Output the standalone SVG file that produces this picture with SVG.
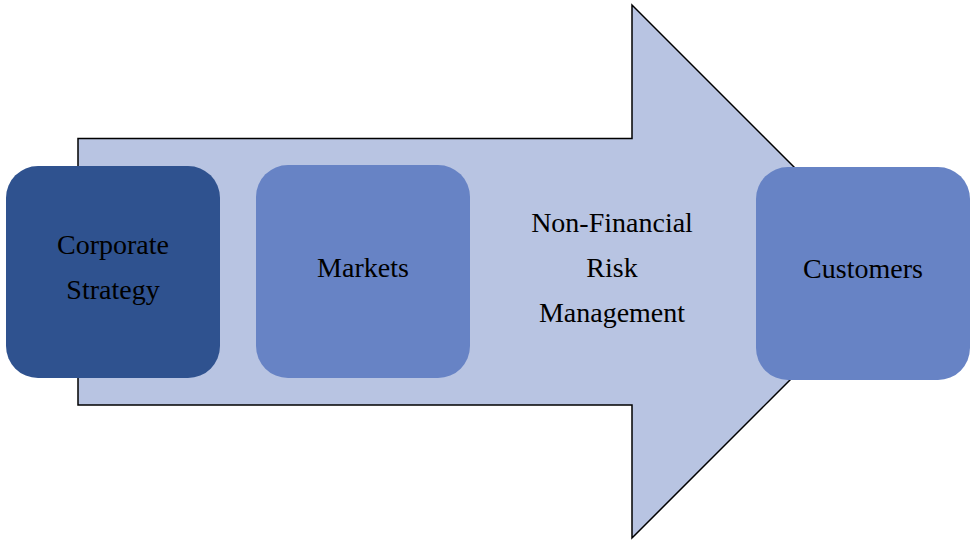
<svg xmlns="http://www.w3.org/2000/svg" width="978" height="544" viewBox="0 0 978 544">
<style>
.bg{fill:#ffffff}
.arrow{fill:#B8C4E2;stroke:#000000;stroke-width:1.5;stroke-linejoin:miter}
.box{stroke:none}
.dark{fill:#2F528F}
.mid{fill:#6783C5}
.lbl{font-family:"Liberation Serif","Times New Roman",serif;font-size:28px;fill:#000000;text-anchor:middle}
</style>
<rect class="bg" x="0" y="0" width="978" height="544"/>
<g id="connectors">
<path id="flow-arrow" class="arrow" d="M78,138.5 L632,138.5 L632,5 L898.5,271.5 L632,538 L632,405 L78,405 Z"/>
<text class="lbl" x="612" y="231.7">Non-Financial</text>
<text class="lbl" x="612" y="276.7">Risk</text>
<text class="lbl" x="612" y="321.7">Management</text>
</g>
<g id="node-corporate-strategy">
<rect class="box dark" x="6" y="166" width="214" height="212" rx="32" ry="32"/>
<text class="lbl" x="113" y="254.3">Corporate</text>
<text class="lbl" x="113" y="299">Strategy</text>
</g>
<g id="node-markets">
<rect class="box mid" x="256" y="165" width="214" height="213" rx="32" ry="32"/>
<text class="lbl" x="363" y="277">Markets</text>
</g>
<g id="node-customers">
<rect class="box mid" x="756" y="167" width="214" height="213" rx="32" ry="32"/>
<text class="lbl" x="863" y="278">Customers</text>
</g>
</svg>
